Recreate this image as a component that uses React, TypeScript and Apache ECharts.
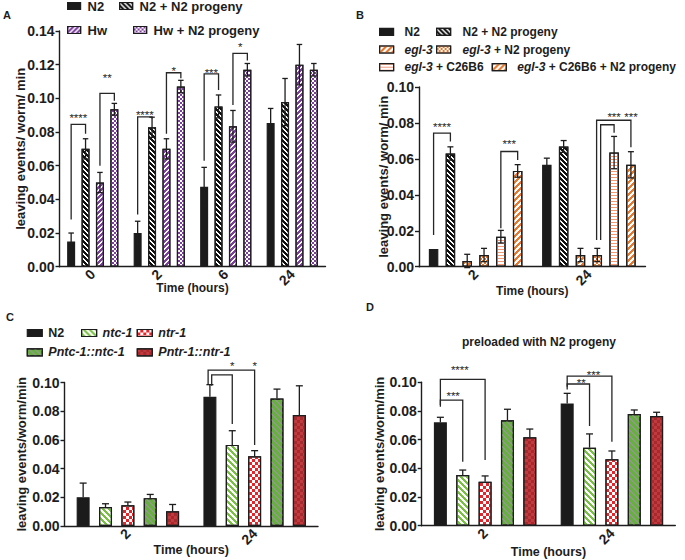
import React, { useEffect, useRef } from 'react';
import * as echarts from 'echarts';

const FONT = 'Arial, "Liberation Sans", Helvetica, sans-serif';
const INK = '#1d1d1d';

// ================= Panel A =================
const A_CATEGORIES = ['0', '2', '6', '24'];
const A_GROUPS = ['N2', 'N2 + N2 progeny', 'Hw', 'Hw + N2 progeny'];
const A_N2 = [0.015, 0.02, 0.0475, 0.0853];
const A_N2_SEM = [0.005, 0.007, 0.0115, 0.0087];
const A_N2_PROG = [0.07, 0.0828, 0.0952, 0.0978];
const A_N2_PROG_SEM = [0.006, 0.006, 0.0068, 0.014];
const A_HW = [0.05, 0.07, 0.0834, 0.12];
const A_HW_SEM = [0.006, 0.006, 0.0094, 0.012];
const A_HW_PROG = [0.0935, 0.107, 0.117, 0.117];
const A_HW_PROG_SEM = [0.0035, 0.0037, 0.0037, 0.0037];
// [category, fromBar, toBar, leftLegBottom, rightLegBottom, top, labelBar, labelY]
const A_BRACKETS = [
  [0, 0, 1, 0.028, 0.079, 0.0845, 0.5, 0.0901],
  [0, 2, 3, 0.06, 0.0985, 0.103, 2.5, 0.1135],
  [1, 0, 1, 0.031, 0.088, 0.089, 0.5, 0.0918],
  [1, 2, 3, 0.079, 0.112, 0.1152, 2.5, 0.1178],
  [2, 0, 1, 0.063, 0.105, 0.1145, 0.5, 0.1168],
  [2, 2, 3, 0.096, 0.1225, 0.1267, 2.5, 0.1317],
];
const A_STARS = ['****', '**', '****', '*', '***', '*'];

// ================= Panel B =================
const B_CATEGORIES = ['2', '24'];
const B_GROUPS = ['N2', 'N2 + N2 progeny', 'egl-3', 'egl-3 + N2 progeny', 'egl-3 + C26B6', 'egl-3 + C26B6 + N2 progeny'];
const B_N2 = [0.0099, 0.0567];
const B_N2_SEM = [0, 0.0037];
const B_N2_PROG = [0.063, 0.0669];
const B_N2_PROG_SEM = [0.0037, 0.0033];
const B_EGL3 = [0.0032, 0.0065];
const B_EGL3_SEM = [0.0037, 0.0037];
const B_EGL3_PROG = [0.0065, 0.0065];
const B_EGL3_PROG_SEM = [0.0037, 0.0037];
const B_EGL3_C26 = [0.0167, 0.0635];
const B_EGL3_C26_SEM = [0.0035, 0.009];
const B_EGL3_C26_PROG = [0.0533, 0.0567];
const B_EGL3_C26_PROG_SEM = [0.0035, 0.0073];
const B_BRACKETS = [
  [0, 0, 1, 0.0177, 0.0697, 0.0743, 0.5, 0.0789],
  [0, 4, 5, 0.0214, 0.0594, 0.0641, 4.5, 0.0696],
  [1, 2.96, 5, 0.0149, 0.0665, 0.0815, 5, 0.0845],
  [1, 3.2, 4, 0.0149, 0.0745, 0.079, 4, 0.0845],
];
const B_STARS = ['****', '***', '***', '***'];

// ================= Panel C =================
const C_CATEGORIES = ['2', '24'];
const C_GROUPS = ['N2', 'ntc-1', 'ntr-1', 'Pntc-1::ntc-1', 'Pntr-1::ntr-1'];
const C_N2 = [0.0201, 0.09];
const C_N2_SEM = [0.0098, 0.0085];
const C_NTC1 = [0.0132, 0.0565];
const C_NTC1_SEM = [0.0023, 0.0099];
const C_NTR1 = [0.0144, 0.0486];
const C_NTR1_SEM = [0.0023, 0.0039];
const C_PNTC1 = [0.0194, 0.0889];
const C_PNTC1_SEM = [0.0026, 0.0065];
const C_PNTR1 = [0.0102, 0.0773];
const C_PNTR1_SEM = [0.0048, 0.0204];
const C_BRACKETS = [
  [1, -0.08, 2, 0.099, 0.0565, 0.1086, 2, 0.1129],
  [1, 0.08, 1, 0.0977, 0.0711, 0.1053, 1, 0.1129],
];
const C_STARS = ['*', '*'];

// ================= Panel D =================
const D_CATEGORIES = ['2', '24'];
const D_N2 = [0.0721, 0.0853];
const D_N2_SEM = [0.0035, 0.007];
const D_NTC1 = [0.0353, 0.0544];
const D_NTC1_SEM = [0.0035, 0.0096];
const D_NTR1 = [0.0307, 0.0463];
const D_NTR1_SEM = [0.004, 0.0058];
const D_PNTC1 = [0.0735, 0.0779];
const D_PNTC1_SEM = [0.0077, 0.0028];
const D_PNTR1 = [0.0616, 0.0765];
const D_PNTR1_SEM = [0.0058, 0.0026];
const D_BRACKETS = [
  [0, 0, 2, 0.0841, 0.0458, 0.102, 0.87, 0.1104],
  [0, 0, 1, 0.083, 0.0446, 0.0876, 0.57, 0.0923],
  [1, 0, 2, 0.0969, 0.0585, 0.1043, 1.18, 0.1069],
  [1, 0, 1, 0.095, 0.0695, 0.0988, 0.63, 0.1015],
];
const D_STARS = ['****', '***', '***', '**'];

// ================= styles =================
const BLACK = '#1b1b1b';
const PURPLE = '#7d3f9c';
const ORANGE = '#e8782c';
const SALMON = '#f09a78';
const GREEN = '#79c143';
const GREEN_FILL = '#67b03f';
const RED = '#e8242b';
const DARK_RED = '#c13a3e';
const MARK = '#262626';

// diagonal hatch built from 1px rows shifted by one pixel each (dir > 0: "\\\", dir < 0: "///")
const diag = (color: string, dir: number, period = 6, dash = 3) => {
  const rows: number[][] = [];
  for (let r = 0; r < period; r++) {
    const k = dir > 0 ? r : (period - r) % period;
    if (k === 0) rows.push([dash, period - dash]);
    else if (k + dash <= period) rows.push([0, k, dash, period - k - dash]);
    else {
      const f = k + dash - period;
      rows.push([f, k - f, period - k, 0]);
    }
  }
  return { symbol: 'rect', symbolSize: 1, color, dashArrayX: rows, dashArrayY: [1, 0] };
};
const checker = (color: string, s = 2) => ({
  symbol: 'rect', symbolSize: 1, color, dashArrayX: [[s, s], [0, s, s, 0]], dashArrayY: [s, 0],
});
const hlines = (color: string) => ({
  symbol: 'rect', symbolSize: 1, color, dashArrayX: [10, 0], dashArrayY: [1, 2],
});

const solid = (c: string) => ({ color: c });
const deco = (c: string, decal: any) => ({ color: c, decal });

const A_STYLES = [solid(BLACK), deco('#ffffff', diag('#111', 1, 5, 3)), deco('#ffffff', diag(PURPLE, -1, 5, 3)), deco('#ffffff', checker(PURPLE, 2))];
const B_STYLES = [
  solid(BLACK), deco('#ffffff', diag('#111', 1, 5, 3)), deco('#ffffff', diag(ORANGE, -1, 6, 3)),
  deco('#ffffff', checker(ORANGE, 2)), deco('#ffffff', hlines(SALMON)), deco('#ffffff', diag(ORANGE, -1, 6, 3)),
];
const CD_STYLES = [
  solid(BLACK), deco('#ffffff', diag(GREEN, 1, 6, 3)), deco('#ffffff', checker(RED, 3)),
  deco(GREEN_FILL, diag('#8f9b88', 1, 6, 2)), deco(DARK_RED, checker('#a6292d', 3)),
];

const LEGEND_A = ['N2', 'N2 + N2 progeny', 'Hw', 'Hw + N2 progeny'];
const LEGEND_B = ['N2', 'N2 + N2 progeny', '{i|egl-3}', '{i|egl-3} + N2 progeny', '{i|egl-3} + C26B6', '{i|egl-3} + C26B6 + N2 progeny'];
const LEGEND_C = ['N2', '{i|ntc-1}', '{i|ntr-1}', '{i|Pntc-1::ntc-1}', '{i|Pntr-1::ntr-1}'];

type Panel = {
  key: string;
  grid: number[];
  cats: string[];
  max: number;
  groups: string[];
  values: number[][];
  sems: number[][];
  styles: any[];
  barWidth: number;
  barGap: number;
  capW: number;
  both: boolean;
  brackets: number[][];
  stars: string[];
  yName: string;
  yNameGap: number;
  xNameGap: number;
  xNameSize: number;
  legendLabels: string[];
  legendPos: number[][]; // [left, centerY, extra text gap]
  legendFont: number;
  legendIcon: number[];
};

const PANELS: Panel[] = [
  {
    key: 'A', grid: [59.5, 31, 266, 235.7], cats: A_CATEGORIES, max: 0.14, groups: A_GROUPS,
    values: [A_N2, A_N2_PROG, A_HW, A_HW_PROG], sems: [A_N2_SEM, A_N2_PROG_SEM, A_HW_SEM, A_HW_PROG_SEM],
    styles: A_STYLES, barWidth: 8, barGap: 80, capW: 5.5, both: true, brackets: A_BRACKETS, stars: A_STARS,
    yName: 'leaving events/ worm/ min', yNameGap: 33, xNameGap: 15, xNameSize: 12,
    legendLabels: LEGEND_A, legendPos: [[67, 7, 2], [119, 7, 2], [67, 31, 2], [133, 31, 2]], legendFont: 13, legendIcon: [13, 7],
  },
  {
    key: 'B', grid: [419, 87, 226.5, 179.7], cats: B_CATEGORIES, max: 0.1, groups: B_GROUPS,
    values: [B_N2, B_N2_PROG, B_EGL3, B_EGL3_PROG, B_EGL3_C26, B_EGL3_C26_PROG],
    sems: [B_N2_SEM, B_N2_PROG_SEM, B_EGL3_SEM, B_EGL3_PROG_SEM, B_EGL3_C26_SEM, B_EGL3_C26_PROG_SEM],
    styles: B_STYLES, barWidth: 9.5, barGap: 77, capW: 6, both: true, brackets: B_BRACKETS, stars: B_STARS,
    yName: 'leaving events/ worm/ min', yNameGap: 29, xNameGap: 18.5, xNameSize: 12,
    legendLabels: LEGEND_B,
    legendPos: [[379, 33.3, 6], [436, 33.3, 7], [379, 51, 6], [436, 51, 7], [379, 68.7, 6], [491.7, 68.7, 6]],
    legendFont: 12, legendIcon: [14, 7],
  },
  {
    key: 'C', grid: [64.5, 382.5, 253.5, 143.5], cats: C_CATEGORIES, max: 0.1, groups: C_GROUPS,
    values: [C_N2, C_NTC1, C_NTR1, C_PNTC1, C_PNTR1], sems: [C_N2_SEM, C_NTC1_SEM, C_NTR1_SEM, C_PNTC1_SEM, C_PNTR1_SEM],
    styles: CD_STYLES, barWidth: 13, barGap: 72, capW: 7, both: false, brackets: C_BRACKETS, stars: C_STARS,
    yName: 'leaving events/worm/min', yNameGap: 37, xNameGap: 17.5, xNameSize: 12.5,
    legendLabels: LEGEND_C,
    legendPos: [[26.7, 334, 1], [81, 334, 1], [136.7, 334, 1], [26.7, 353.3, 1], [136.7, 353.3, 1]],
    legendFont: 12.5, legendIcon: [15, 7],
  },
  {
    key: 'D', grid: [421.7, 382.3, 253.6, 143.4], cats: D_CATEGORIES, max: 0.1, groups: C_GROUPS,
    values: [D_N2, D_NTC1, D_NTR1, D_PNTC1, D_PNTR1], sems: [D_N2_SEM, D_NTC1_SEM, D_NTR1_SEM, D_PNTC1_SEM, D_PNTR1_SEM],
    styles: CD_STYLES, barWidth: 13, barGap: 72, capW: 7, both: false, brackets: D_BRACKETS, stars: D_STARS,
    yName: 'leaving events/worm/min', yNameGap: 36, xNameGap: 19.5, xNameSize: 12.5,
    legendLabels: [], legendPos: [], legendFont: 12.5, legendIcon: [15, 7],
  },
];

function buildOption() {
  const grid: any[] = [];
  const xAxis: any[] = [];
  const yAxis: any[] = [];
  const series: any[] = [];
  const legend: any[] = [];

  PANELS.forEach((p, pi) => {
    const n = p.groups.length;
    const pitch = p.barWidth * (1 + p.barGap / 100);
    grid.push({ left: p.grid[0], top: p.grid[1], width: p.grid[2], height: p.grid[3], containLabel: false, outerBoundsMode: 'none' });
    xAxis.push({
      type: 'category', gridIndex: pi, data: p.cats,
      axisLine: { lineStyle: { color: INK, width: 1.4 } },
      axisTick: { alignWithLabel: true, length: 4, lineStyle: { color: INK, width: 1.4 } },
      axisLabel: { rotate: 45, fontFamily: FONT, fontWeight: 'bold', fontSize: 14, color: INK, margin: 5 },
      name: 'Time (hours)', nameLocation: 'middle', nameGap: p.xNameGap, nameMoveOverlap: false,
      nameTextStyle: { fontFamily: FONT, fontWeight: 'bold', fontSize: p.xNameSize, color: INK },
    });
    yAxis.push({
      type: 'value', gridIndex: pi, min: 0, max: p.max, interval: 0.02,
      axisLine: { show: true, lineStyle: { color: INK, width: 1.4 } },
      axisTick: { show: true, length: 4, lineStyle: { color: INK, width: 1.4 } },
      splitLine: { show: false },
      axisLabel: { formatter: (v: number) => v.toFixed(2), fontFamily: FONT, fontWeight: 'bold', fontSize: 14, color: INK, margin: 5 },
      name: p.yName, nameLocation: 'middle', nameGap: p.yNameGap, nameMoveOverlap: false,
      nameTextStyle: { fontFamily: FONT, fontWeight: 'bold', fontSize: 13, color: INK },
    });

    p.groups.forEach((g, si) => {
      series.push({
        type: 'bar', name: `${p.key}:${g}`, xAxisIndex: pi, yAxisIndex: pi,
        data: p.values[si], barWidth: p.barWidth, barGap: `${p.barGap}%`,
        itemStyle: { ...p.styles[si], borderColor: INK, borderWidth: 1.2 },
        z: 2, silent: true,
      });
    });

    const errData: number[][] = [];
    p.values.forEach((vals, si) => vals.forEach((v, ci) => errData.push([ci, si, v, p.sems[si][ci]])));
    series.push({
      type: 'custom', xAxisIndex: pi, yAxisIndex: pi, data: errData, encode: { x: 0, y: 2 }, z: 4, silent: true,
      color: INK, itemStyle: { color: INK },
      renderItem: (params: any, api: any) => {
        const cat = api.value(0), b = api.value(1), v = api.value(2), e = api.value(3);
        if (!e) return null;
        const c = api.coord([cat, v]);
        const x = c[0] + (b - (n - 1) / 2) * pitch;
        const yT = api.coord([cat, v + e])[1];
        const yB = p.both ? api.coord([cat, v - e])[1] : c[1];
        const h = p.capW / 2;
        const st = { stroke: INK, lineWidth: 1.3 };
        const kids: any[] = [
          { type: 'line', shape: { x1: x, y1: yB, x2: x, y2: yT }, style: st },
          { type: 'line', shape: { x1: x - h, y1: yT, x2: x + h, y2: yT }, style: st },
        ];
        if (p.both) kids.push({ type: 'line', shape: { x1: x - h, y1: yB, x2: x + h, y2: yB }, style: st });
        return { type: 'group', children: kids };
      },
    });

    series.push({
      type: 'custom', xAxisIndex: pi, yAxisIndex: pi, data: p.brackets, encode: { x: 0, y: 5 }, z: 5, silent: true,
      color: MARK, itemStyle: { color: MARK },
      renderItem: (params: any, api: any) => {
        const cat = api.value(0);
        const cx = api.coord([cat, 0])[0];
        const bx = (b: number) => cx + (b - (n - 1) / 2) * pitch;
        const y = (v: number) => api.coord([cat, v])[1];
        const x1 = bx(api.value(1)), x2 = bx(api.value(2));
        const top = y(api.value(5));
        return {
          type: 'group',
          children: [
            {
              type: 'polyline',
              shape: { points: [[x1, y(api.value(3))], [x1, top], [x2, top], [x2, y(api.value(4))]] },
              style: { stroke: MARK, lineWidth: 1.3, fill: 'none' },
            },
            {
              type: 'text', x: bx(api.value(6)), y: y(api.value(7)) + 2.5,
              style: { text: p.stars[params.dataIndex], align: 'center', verticalAlign: 'middle', font: `11.5px ${FONT}`, fill: MARK, stroke: 'none', lineWidth: 0 },
            },
          ],
        };
      },
    });

    p.legendPos.forEach((pos, li) => {
      const nm = `${p.key}:${p.groups[li]}`;
      const label = `{g| }${p.legendLabels[li]}`;
      legend.push({
        data: [{ name: nm, icon: 'rect' }],
        left: pos[0], top: pos[1] - 7.5, padding: 0, orient: 'horizontal',
        itemWidth: p.legendIcon[0], itemHeight: p.legendIcon[1], selectedMode: false,
        itemStyle: { borderColor: INK, borderWidth: 1.2 },
        formatter: () => label,
        textStyle: {
          fontFamily: FONT, fontWeight: 'bold', fontSize: p.legendFont, color: INK,
          rich: {
            g: { width: pos[2], fontSize: p.legendFont },
            i: { fontFamily: FONT, fontWeight: 'bold', fontStyle: 'italic', fontSize: p.legendFont, color: INK },
          },
        },
      });
    });
  });

  const letter = (t: string, x: number, y: number) => ({
    type: 'text', x, y, style: { text: t, font: `bold 11px ${FONT}`, fill: INK, align: 'left', verticalAlign: 'middle' },
  });

  return {
    animation: false,
    backgroundColor: '#ffffff',
    grid, xAxis, yAxis, series, legend,
    graphic: [
      letter('A', 3, 15),
      letter('B', 356, 15),
      letter('C', 6, 316.5),
      letter('D', 366, 306.5),
      {
        type: 'text', x: 539, y: 341.7,
        style: { text: 'preloaded with N2 progeny', font: `bold 12px ${FONT}`, fill: INK, align: 'center', verticalAlign: 'middle' },
      },
    ],
  };
}

export default function App() {
  const ref = useRef<HTMLDivElement>(null);
  useEffect(() => {
    if (!ref.current) return;
    const chart = echarts.init(ref.current, null, { renderer: 'svg' });
    chart.setOption(buildOption() as any);
    return () => chart.dispose();
  }, []);
  return (
    <div style={{ position: 'absolute', left: 0, top: 0, width: 685, height: 560, background: '#fff' }}>
      <div ref={ref} style={{ width: 685, height: 560 }} />
    </div>
  );
}
